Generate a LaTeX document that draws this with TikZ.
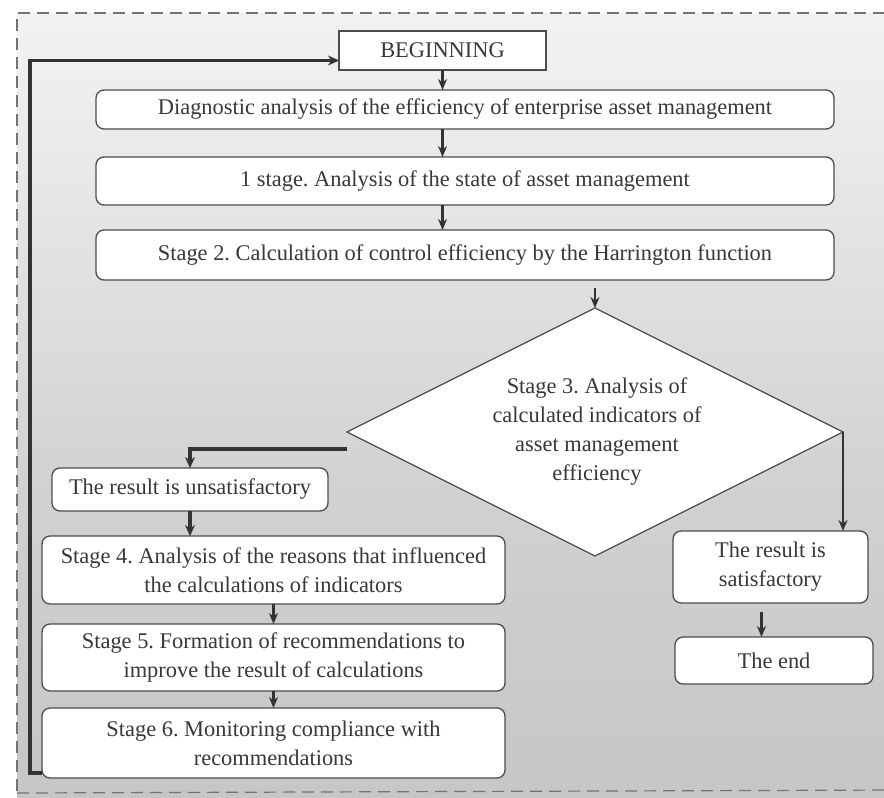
\documentclass[tikz,border=0pt]{standalone}
\usepackage{fontspec}
\setmainfont{Liberation Serif}
\usetikzlibrary{shapes.geometric,arrows.meta}
\pgfdeclareverticalshading{bgshade}{100bp}{color(0bp)=(black!28); color(45bp)=(black!18); color(72bp)=(black!6); color(100bp)=(white)}
\frenchspacing
\begin{document}
\begin{tikzpicture}[x=1pt,y=-1pt,
  txt/.style={text=black!78, font=\fontsize{22.4}{29}\selectfont},
  box/.style={draw=black!70, line width=1.3pt, fill=white, rounded corners=8pt, align=center, inner sep=0pt, outer sep=0pt, txt},
  arr/.style={draw=black!80, line width=2.2pt, -{Stealth[length=11pt,width=9pt]}},
  thickarr/.style={draw=black!80, line width=3.5pt, -{Stealth[length=11pt,width=10pt]}},
  frame/.style={draw=black!55, line width=1.2pt, dash pattern=on 12pt off 7pt}
]
\useasboundingbox (0,0) rectangle (884,798);
\begin{scope}
\clip (0,0) rectangle (884,798);
\shade[shading=bgshade] (17,13) rectangle (900,810);
\draw[frame] (17,810) -- (17,13) -- (900,13);
\draw[frame] (17,793) -- (900,790);
\end{scope}

\node[box, sharp corners, minimum width=207pt, minimum height=39pt] (begin) at (442.5,50.5) {BEGINNING};
\node[box, minimum width=738pt, minimum height=39pt] (diag) at (465,109.5) {Diagnostic analysis of the efficiency of enterprise asset management};
\node[box, minimum width=738pt, minimum height=48pt] (s1) at (465,181) {1 stage. Analysis of the state of asset management};
\node[box, minimum width=738pt, minimum height=50pt] (s2) at (465,255) {Stage 2. Calculation of control efficiency by the Harrington function};
\node[diamond, draw=black!70, line width=1.2pt, fill=white, minimum width=496pt, minimum height=248pt, inner sep=0pt, outer sep=0pt] (dia) at (595,432) {};
\node[txt, align=center] (diatext) at (597,432) {Stage 3. Analysis of\\calculated indicators of\\asset management\\efficiency};
\node[box, minimum width=276pt, minimum height=43pt] (unsat) at (190,489.5) {The result is unsatisfactory};
\node[box, minimum width=463pt, minimum height=68pt] (s4) at (273.5,570) {Stage 4. Analysis of the reasons that influenced\\the calculations of indicators};
\node[box, minimum width=463pt, minimum height=67pt] (s5) at (273.5,657.5) {Stage 5. Formation of recommendations to\\improve the result of calculations};
\node[box, minimum width=463pt, minimum height=70pt] (s6) at (273.5,743) {Stage 6. Monitoring compliance with\\recommendations};
\node[box, minimum width=195pt, minimum height=72pt] (sat) at (770.5,567) {The result is\\satisfactory};
\node[box, minimum width=198pt, minimum height=47pt] (end) at (774,660.5) {The end};

\draw[arr] (begin.south) -- (begin.south |- diag.north);
\draw[arr] (diag.south -| begin.south) -- (s1.north -| begin.south);
\draw[arr] (s1.south -| begin.south) -- (s2.north -| begin.south);
\draw[arr, shorten <=8pt] (s2.south -| dia.north) -- (dia.north);
\coordinate (ul) at ([yshift=-17pt]dia.west);
\draw[thickarr] (ul) -| (unsat.north);
\draw[thickarr] (unsat.south) -- (unsat.south |- s4.north);
\draw[arr] (s4.south) -- (s5.north);
\draw[arr] (s5.south) -- (s6.north);
\draw[thickarr] ([yshift=5pt]s6.south west) -- ++(-12,0) |- ([yshift=-10pt]begin.west);
\draw[arr] (dia.east) -- (dia.east |- sat.north);
\draw[arr, shorten <=9pt] ([xshift=-9pt]sat.south) -- ([xshift=-9pt]sat.south |- end.north);
\end{tikzpicture}
\end{document}
